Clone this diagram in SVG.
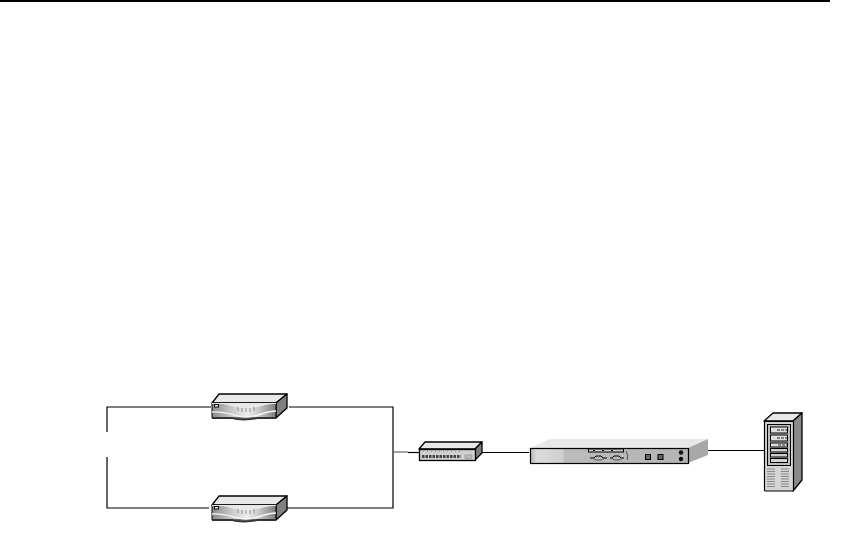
<svg xmlns="http://www.w3.org/2000/svg" width="850" height="538" viewBox="0 0 850 538">
<style>
.ln{fill:none;stroke:#000;stroke-width:1.200}
.ol{stroke:#000;stroke-width:1.300;stroke-linejoin:round}
.top{fill:#e8e8e8}
.side{fill:#808080}
.tick{stroke:#777;stroke-width:.8;fill:none}
.sl{fill:none;stroke:#000;stroke-width:1}
.grill{stroke:#888;stroke-width:1;stroke-dasharray:8 1}
</style>
<defs>
<linearGradient id="rf" x1="0" x2="1" y1="0" y2="0">
<stop offset="0" stop-color="#8a8a8a"/><stop offset=".3" stop-color="#c8c8c8"/><stop offset=".55" stop-color="#eeeeee"/><stop offset=".75" stop-color="#c4c4c4"/><stop offset="1" stop-color="#7c7c7c"/>
</linearGradient>
<linearGradient id="rk" x1="0" x2="1" y1="0" y2="0">
<stop offset="0" stop-color="#b8b8b8"/><stop offset=".04" stop-color="#dcdcdc"/><stop offset=".2" stop-color="#cfcfcf"/><stop offset=".22" stop-color="#bcbcbc"/><stop offset="1" stop-color="#b4b4b4"/>
</linearGradient>
<g id="router">
<path class="top ol" d="M212 403L219 394H287L276 403Z"/>
<path class="side ol" d="M276 403L287 394V408L276 418Z"/>
<path d="M212 403H276V418H212Z" fill="url(#rf)" stroke="#000"/>
<path d="M212 403C228 403 236 409 246 409C258 409 264 403 276 403V403H212Z" fill="#e8e8e8"/>
<path d="M212 404H225C234 404 238 408 246 408C256 408 262 404 276 404V403H212Z" fill="#e8e8e8"/>
<path d="M212 412C228 411 236 417 246 417C258 417 264 411 276 411" fill="none" stroke="#f6f6f6" stroke-width="1.400"/>
<path d="M212 418H232C238 420 250 420 258 418H276" fill="none" stroke="#333" stroke-width="1.800"/>
<rect x="214.500" y="404.500" width="4" height="2.500" fill="#fff" stroke="#000"/>
<path class="tick" d="M238 407V411M242 408V412M246 408V412M250 408V412M254 407V411"/>
</g>
</defs>
<path d="M0 1H830" stroke="#000" stroke-width="2"/>
<g id="connectors">
<path class="ln" d="M107 432V407H211"/>
<path class="ln" d="M107 457V508H209"/>
<path class="ln" d="M289 407H393V508H287"/>
<path d="M393 452H408" stroke="#666" stroke-width="1.200" fill="none"/>
<path class="ln" d="M408 452.500H419"/>
<path class="ln" d="M482 452.500H529"/>
<path class="ln" d="M708 450.500H764"/>
</g>
<g id="router-1"><use href="#router"/></g>
<g id="router-2"><use href="#router" y="102"/></g>
<g id="hub">
<path class="top ol" d="M419 449L425 442H482L475 449Z"/>
<path class="side ol" d="M475 449L482 442V453L475 460Z"/>
<rect x="419.500" y="449.500" width="56" height="11" fill="#d0d0d0" stroke="#000" stroke-width="1.300"/>
<path d="M423 451.500H461" stroke="#999" stroke-dasharray="1 3"/>
<path d="M422 456.500H461" stroke="#444" stroke-width="3" stroke-dasharray="2.500 1"/>
<rect x="465" y="455" width="7" height="3.500" fill="#bbb" stroke="#888" stroke-width=".6"/>
</g>
<g id="appliance">
<path class="top" d="M530 448L550 439H708L688 448Z"/>
<path d="M688 448L708 439V455L688 463Z" fill="#a8a8a8"/>
<rect x="530.500" y="448.500" width="158" height="15" fill="url(#rk)" stroke="#000" stroke-width="1.200"/>
<rect x="588.500" y="449" width="35" height="3" fill="#ccc" stroke="#000"/>
<path d="M593 450.500H618" stroke="#000" stroke-dasharray="2 7"/>
<path class="sl" d="M590 458H594L596 456H601L603 458H607M610 458H612L614 456H619L621 458H624"/>
<path d="M593 458.500L596 460H601L604 458.500M612 458.500L615 460H619L622 458.500" fill="none" stroke="#555"/>
<path d="M626 451Q629 456 627 460" fill="none" stroke="#555"/>
<rect x="645.500" y="454.500" width="5" height="5" fill="#666" stroke="#000"/>
<rect x="658" y="454.500" width="5" height="5" fill="#666" stroke="#000"/>
<circle cx="681" cy="452.500" r="2.200" fill="#111"/>
<circle cx="681" cy="459" r="2.200" fill="#111"/>
</g>
<g id="server">
<path class="top ol" d="M764 421L773 413H802L793 421Z"/>
<path class="ol" d="M793 421L802 413V480L793 491Z" fill="#8a8a8a"/>
<rect x="764.500" y="421.500" width="29" height="69.500" rx="1" fill="#d4d4d4" stroke="#000" stroke-width="1.200"/>
<rect x="767.500" y="424.500" width="23" height="41" fill="#bdbdbd" stroke="#000"/>
<rect x="770.500" y="427" width="17" height="6" fill="#e0e0e0" stroke="#000"/>
<rect x="770.500" y="435" width="17" height="6" fill="#e0e0e0" stroke="#000"/>
<rect x="770.500" y="443" width="17" height="4" fill="#e0e0e0" stroke="#000"/>
<rect x="770.500" y="448.500" width="17" height="3.500" fill="#d0d0d0" stroke="#000"/>
<rect x="770.500" y="453.500" width="17" height="3.500" fill="#d0d0d0" stroke="#000"/>
<rect x="770.500" y="458.500" width="17" height="4" fill="#d0d0d0" stroke="#000"/>
<path d="M777 430H787M777 438H787M778 445H787" stroke="#222" stroke-dasharray="3 1"/>
<path class="grill" d="M767 469H776M767 471.500H776M767 474H776M767 476.500H776M767 479H776M767 481.500H776M767 484H776M767 486.500H776M781 469H789M781 471.500H789M781 474H789M781 476.500H789M781 479H789M781 481.500H789M781 484H789M781 486.500H789"/>
</g>
</svg>
